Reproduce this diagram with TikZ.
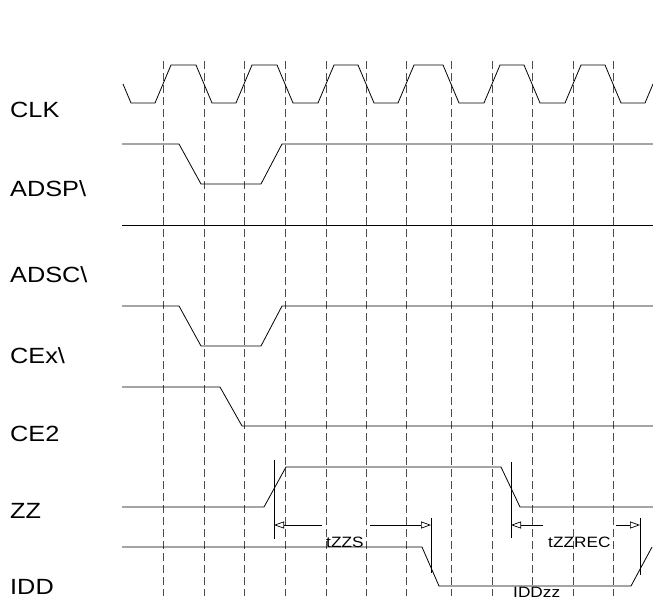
\documentclass[tikz,border=0pt]{standalone}
\usepackage{graphicx}
\usepackage{fontspec}
\setmainfont{Liberation Sans}
\usetikzlibrary{arrows.meta}

\tikzset{
  sig/.style={line width=0.8pt},
  gridline/.style={black!70, line width=0.8pt, dash pattern=on 8pt off 4pt},
  marker/.style={line width=0.7pt},
  dim/.style={-{Triangle[open,length=10pt,width=7pt]}, line width=0.7pt},
  lbl/.style={anchor=base west, inner sep=0pt, font=\fontsize{22}{24}\selectfont},
  tlbl/.style={anchor=base west, inner sep=0pt, font=\fontsize{15}{17}\selectfont}
}
\newcommand{\wide}[1]{\scalebox{1.15}[1]{#1}}

\begin{document}
\begin{tikzpicture}[x=1pt,y=-1pt]
    \useasboundingbox (0,0) rectangle (653,599);
    % signal names
    \draw (10,118) node[lbl] (clk) {\wide{CLK}};
    \draw (10,196) node[lbl] (adsp) {\wide{ADSP\textbackslash}};
    \draw (10,282) node[lbl] (adsc) {\wide{ADSC\textbackslash}};
    \draw (10,363) node[lbl] (cex) {\wide{CEx\textbackslash}};
    \draw (10,441) node[lbl] (ce2) {\wide{CE2}};
    \draw (10,518) node[lbl] (zz) {\wide{ZZ}};
    \draw (10,594) node[lbl] (idd) {\wide{IDD}};
    % clock edges
    \draw[gridline] (163,61) -- (163,596);
    \draw[gridline] (204,61) -- (204,596);
    \draw[gridline] (244,61) -- (244,596);
    \draw[gridline] (285,61) -- (285,596);
    \draw[gridline] (326,61) -- (326,596);
    \draw[gridline] (366,61) -- (366,596);
    \draw[gridline] (406,61) -- (406,596);
    \draw[gridline] (451,61) -- (451,596);
    \draw[gridline] (492,61) -- (492,596);
    \draw[gridline] (532,61) -- (532,596);
    \draw[gridline] (573,61) -- (573,596);
    \draw[gridline] (613,61) -- (613,596);
    % waveforms
    \draw[sig] (123,84) -- (131,103) -- (155,103) -- (171,65) -- (196,65) -- (212,103)
      -- (236,103) -- (252,65) -- (277,65) -- (293,103) -- (318,103) -- (334,65)
      -- (358,65) -- (374,103) -- (398,103) -- (414,65) -- (443,65) -- (459,103)
      -- (484,103) -- (500,65) -- (524,65) -- (540,103) -- (565,103) -- (581,65)
      -- (605,65) -- (621,103) -- (645,103) -- (653,84);
    \draw[sig] (122,144) -- (179,144) -- (201,184) -- (261,184) -- (282,144) -- (653,144);
    \draw[sig] (122,225) -- (653,225);
    \draw[sig] (122,306) -- (179,306) -- (201,346) -- (261,346) -- (282,306) -- (653,306);
    \draw[sig] (122,387) -- (220,387) -- (242,426) -- (653,426);
    \draw[sig] (122,507) -- (264,507) -- (286,467) -- (501,467) -- (520,507) -- (653,507);
    \draw[sig] (122,547) -- (422,547) -- (439,586) -- (631,586) -- (652,547);
    % tZZS
    \coordinate (zzs-a) at (274,525);
    \coordinate (zzs-b) at (431,525);
    \draw[marker] (274,460) -- (274,539);
    \draw[marker] (431,518) -- (431,573);
    \draw[dim] (322,525) -- (zzs-a);
    \draw[dim] (370,525) -- (zzs-b);
    \draw (326,547) node[tlbl] (tzzs) {\wide{tZZS}};
    % tZZREC
    \coordinate (rec-a) at (511,525);
    \coordinate (rec-b) at (640,525);
    \draw[marker] (511,462) -- (511,538);
    \draw[marker] (640,518) -- (640,575);
    \draw[dim] (543,525) -- (rec-a);
    \draw[dim] (616,525) -- (rec-b);
    \draw (548,547) node[tlbl] (tzzrec) {\wide{tZZREC}};
    \draw (513,597) node[tlbl] (iddzz) {\wide{IDDzz}};
\end{tikzpicture}
\end{document}
